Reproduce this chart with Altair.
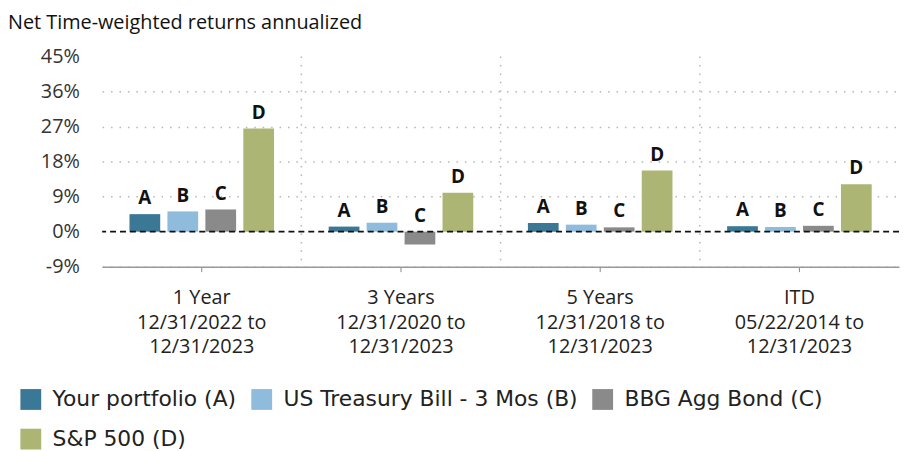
import altair as alt
import pandas as pd

periods = [
    "1 Year|12/31/2022 to|12/31/2023",
    "3 Years|12/31/2020 to|12/31/2023",
    "5 Years|12/31/2018 to|12/31/2023",
    "ITD|05/22/2014 to|12/31/2023",
]
series = ["Your portfolio (A)", "US Treasury Bill - 3 Mos (B)", "BBG Agg Bond (C)", "S&P 500 (D)"]
letters = ["A", "B", "C", "D"]
portfolio = [4.5, 1.3, 2.2, 1.4]
tbill = [5.2, 2.3, 1.8, 1.2]
agg_bond = [5.7, -3.3, 1.1, 1.5]
sp500 = [26.5, 10.0, 15.7, 12.2]
colors = ["#3a7896", "#8fbcdc", "#8a8a8a", "#adb574"]
y_ticks = [-9, 0, 9, 18, 27, 36, 45]
title_text = "Net Time-weighted returns annualized"

rows = []
for s, letter, vals in zip(series, letters, [portfolio, tbill, agg_bond, sp500]):
    for p, v in zip(periods, vals):
        rows.append({"period": p, "series": s, "letter": letter, "value": v})
df = pd.DataFrame(rows)

x_scale = alt.Scale(paddingInner=0, paddingOuter=0)
x_axis = alt.Axis(
    title=None,
    labelExpr="split(datum.label, '|')",
    labelAngle=0,
    labelAlign="center",
    labelBaseline="top",
    labelFont="Open Sans",
    labelFontSize=20,
    labelColor="#222",
    labelLineHeight=25,
    labelPadding=16,
    labelOverlap=False,
    tickSize=5,
    tickColor="#888",
    domainColor="#999",
    domainWidth=1.5,
    grid=False,
)
y_scale = alt.Scale(domain=[-9, 45], nice=False, zero=True)
y_axis = alt.Axis(
    title=None,
    values=y_ticks,
    labelExpr="datum.value + '%'",
    labelFont="Open Sans",
    labelFontSize=20,
    labelColor="#333",
    labelPadding=23,
    labelOverlap=False,
    domain=False,
    ticks=False,
    grid=True,
    gridDash=[1.5, 7],
    gridColor="#b5b5b5",
    gridWidth=1.5,
    gridOpacity={"condition": {"test": "datum.value == 45 || datum.value == 0", "value": 0}, "value": 1},
)
xoff = alt.XOffset("series:N", sort=series, scale=alt.Scale(paddingInner=0.19, paddingOuter=0.72))

base = alt.Chart(df)

vgrid = alt.Chart(pd.DataFrame({"period": periods[1:]})).mark_rule(
    strokeDash=[1.5, 7], color="#b5b5b5", strokeWidth=1.5
).encode(x=alt.X("period:N", sort=periods, bandPosition=0, scale=x_scale, axis=x_axis))

bars = base.mark_bar().encode(
    x=alt.X("period:N", sort=periods, scale=x_scale, axis=x_axis),
    xOffset=xoff,
    y=alt.Y("value:Q", scale=y_scale, axis=y_axis),
    color=alt.Color(
        "series:N",
        sort=series,
        scale=alt.Scale(domain=series, range=colors),
        legend=alt.Legend(
            title=None,
            orient="none",
            legendX=-83,
            legendY=335,
            direction="horizontal",
            columns=3,
            symbolType="square",
            symbolSize=441,
            symbolStrokeWidth=0,
            symbolOpacity=1,
            labelFont="DejaVu Sans",
            labelFontSize=22,
            labelColor="#222",
            columnPadding=14,
            rowPadding=18,
            labelOffset=11,
            padding=0,
            labelLimit=400,
        ),
    ),
)

labels = base.transform_calculate(label_y="max(datum.value, 0)").mark_text(
    dy=-10, baseline="alphabetic", font="Open Sans", fontWeight="bold", fontSize=19, color="#111"
).encode(
    x=alt.X("period:N", sort=periods, scale=x_scale, axis=x_axis),
    xOffset=xoff,
    y=alt.Y("label_y:Q", scale=y_scale, axis=y_axis),
    text="letter:N",
)

zero = alt.Chart(pd.DataFrame({"v": [0]})).mark_rule(
    strokeDash=[6, 4], color="#111", strokeWidth=1.8
).encode(y=alt.Y("v:Q", scale=y_scale, axis=y_axis))

chart = alt.layer(vgrid, bars, labels, zero).properties(
    width=804,
    height=212,
    padding={"left": 95, "top": 47, "right": 2, "bottom": 184},
    autosize=alt.AutoSizeParams(type="none"),
    title=alt.TitleParams(
        title_text,
        anchor="start",
        frame="group",
        dx=-95,
        offset=14,
        font="Open Sans",
        fontSize=20,
        fontWeight="normal",
        color="#111",
    ),
).configure_view(stroke=None)

chart.save("out.html", embed_options={"renderer": "svg", "actions": False})
